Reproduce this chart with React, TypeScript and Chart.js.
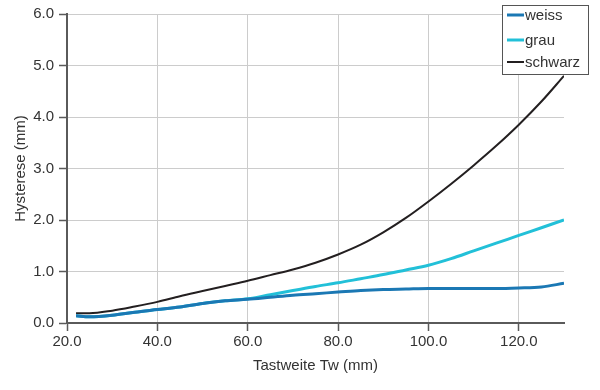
import React, { useEffect, useRef } from "react";
import { Chart, registerables } from "chart.js";

Chart.register(...registerables);

const tastweite = [22, 25, 30, 35, 40, 45, 50, 55, 60, 65, 70, 75, 80, 85, 90, 95, 100, 105, 110, 115, 120, 125, 130];
const weiss = [0.14, 0.12, 0.15, 0.21, 0.26, 0.31, 0.38, 0.43, 0.46, 0.5, 0.54, 0.57, 0.6, 0.63, 0.65, 0.66, 0.67, 0.67, 0.67, 0.67, 0.68, 0.7, 0.77];
const grau = [0.14, 0.12, 0.15, 0.21, 0.26, 0.31, 0.38, 0.43, 0.47, 0.55, 0.63, 0.71, 0.78, 0.86, 0.94, 1.03, 1.12, 1.25, 1.4, 1.55, 1.7, 1.85, 2.0];
const schwarz = [0.19, 0.19, 0.24, 0.32, 0.41, 0.52, 0.62, 0.72, 0.82, 0.93, 1.04, 1.17, 1.33, 1.52, 1.76, 2.04, 2.36, 2.7, 3.06, 3.44, 3.85, 4.3, 4.8];
const seriesNames = ["weiss", "grau", "schwarz"];
const seriesColors = ["#1b78b4", "#22c0d8", "#231f20"];
const seriesWidths = [3, 3, 2];
const xTitle = "Tastweite Tw (mm)";
const yTitle = "Hysterese (mm)";

const FONT = "'Liberation Sans', Arial, sans-serif";
const TEXT = "#333333";

const overlayPlugin = {
  id: "overlay",
  afterDraw(chart: any) {
    const ctx = chart.ctx;
    const area = chart.chartArea;
    ctx.save();
    ctx.font = `15px ${FONT}`;
    ctx.fillStyle = TEXT;
    ctx.textAlign = "center";
    ctx.textBaseline = "middle";
    ctx.fillText(xTitle, (area.left + area.right) / 2, 366);
    ctx.save();
    ctx.translate(21, (area.top + area.bottom) / 2);
    ctx.rotate(-Math.PI / 2);
    ctx.fillText(yTitle, 0, 0);
    ctx.restore();
    const lx = 502.5, ly = 5.5, lw = 86, lh = 69;
    ctx.fillStyle = "#ffffff";
    ctx.fillRect(lx, ly, lw, lh);
    ctx.strokeStyle = "#555555";
    ctx.lineWidth = 1;
    ctx.strokeRect(lx, ly, lw, lh);
    const rows = [15, 40, 62];
    seriesNames.forEach((name, i) => {
      ctx.strokeStyle = seriesColors[i];
      ctx.lineWidth = seriesWidths[i];
      ctx.beginPath();
      ctx.moveTo(507, rows[i]);
      ctx.lineTo(524, rows[i]);
      ctx.stroke();
      ctx.fillStyle = TEXT;
      ctx.textAlign = "left";
      ctx.textBaseline = "middle";
      ctx.fillText(name, 525, rows[i] + 1);
    });
    ctx.restore();
  },
};

export default function App() {
  const ref = useRef<HTMLCanvasElement>(null);
  useEffect(() => {
    if (!ref.current) return;
    Chart.defaults.font.family = FONT;
    Chart.defaults.font.size = 15;
    Chart.defaults.color = TEXT;
    const series = [weiss, grau, schwarz];
    const chart = new Chart(ref.current, {
      type: "line",
      data: {
        datasets: series.map((vals, i) => ({
          label: seriesNames[i],
          data: tastweite.map((x, j) => ({ x, y: vals[j] })),
          borderColor: seriesColors[i],
          backgroundColor: seriesColors[i],
          borderWidth: seriesWidths[i],
          pointRadius: 0,
          cubicInterpolationMode: "monotone" as const,
          fill: false,
        })),
      },
      options: {
        responsive: false,
        animation: false,
        layout: { padding: { top: 13, right: 36, left: 0, bottom: 0 } },
        plugins: { legend: { display: false }, tooltip: { enabled: false } },
        scales: {
          x: {
            type: "linear",
            min: 20,
            max: 130,
            afterFit: (s: any) => { s.height = 67; },
            ticks: {
              stepSize: 20,
              includeBounds: false,
              padding: 2,
              color: TEXT,
              font: { size: 15, family: FONT },
              callback: (v: any) => Number(v).toFixed(1),
            },
            grid: { color: "#cccccc", lineWidth: 1, tickLength: 8, tickColor: "#5a5a5a", tickWidth: 1.5 },
            border: { color: "#5a5a5a", width: 2 },
          },
          y: {
            type: "linear",
            min: 0,
            max: 6,
            afterFit: (s: any) => { s.width = 67; },
            ticks: {
              stepSize: 1,
              padding: 5,
              color: TEXT,
              font: { size: 15, family: FONT },
              callback: (v: any) => Number(v).toFixed(1),
            },
            grid: { color: "#cccccc", lineWidth: 1, tickLength: 8, tickColor: "#5a5a5a", tickWidth: 1.5 },
            border: { color: "#5a5a5a", width: 2 },
          },
        },
      },
      plugins: [overlayPlugin],
    } as any);
    return () => chart.destroy();
  }, []);
  return (
    <div style={{ position: "absolute", left: 0, top: 0, width: 600, height: 390, background: "#fff" }}>
      <canvas ref={ref} width={600} height={390} />
    </div>
  );
}
